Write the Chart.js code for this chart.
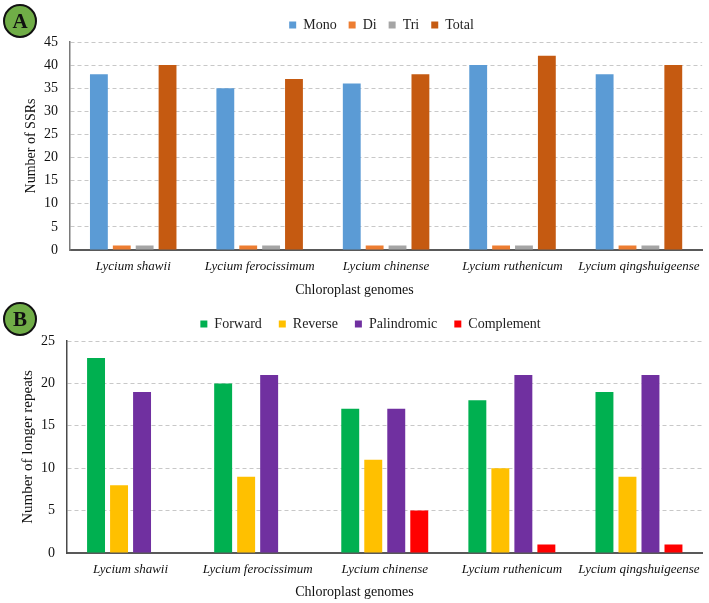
<!DOCTYPE html>
<html>
<head>
<meta charset="utf-8">
<script src="https://cdn.jsdelivr.net/npm/chart.js@4.4.1/dist/chart.umd.min.js"></script>
<style>
    body { margin: 0; background: #fff; }
    #wrap { position: relative; width: 709px; height: 603px; }
    .panel { position: absolute; left: 0; }
    .badge {
        position: absolute; width: 30px; height: 30px; border-radius: 50%;
        background: #70ad47; border: 2px solid #111; color: #111;
        font: bold 21px "Liberation Serif", serif; text-align: center; line-height: 31px;
    }
    .xtitle {
        position: absolute; left: 0; width: 709px; text-align: center;
        font: 14px "Liberation Serif", serif; color: #111; line-height: 16px;
    }
</style>
</head>
<body>
<div id="wrap">
    <canvas id="graficoSSR" class="panel" width="709" height="300" style="top:0"></canvas>
    <canvas id="graficoRepeats" class="panel" width="709" height="303" style="top:300px"></canvas>
    <div class="badge" style="left:3px; top:4px;">A</div>
    <div class="badge" style="left:3px; top:302px;">B</div>
    <div class="xtitle" style="top:282px;">Chloroplast genomes</div>
    <div class="xtitle" style="top:584px;">Chloroplast genomes</div>
</div>
<script>
// categorias (genomas)
const especies = ['Lycium shawii', 'Lycium ferocissimum', 'Lycium chinense', 'Lycium ruthenicum', 'Lycium qingshuigeense'];

// Panel A: SSRs
const mono = [38, 35, 36, 40, 38];
const di = [1, 1, 1, 1, 1];
const tri = [1, 1, 1, 1, 1];
const total = [40, 37, 38, 42, 40];

// Panel B: repeticiones largas
const forward = [23, 20, 17, 18, 19];
const reverse = [8, 9, 11, 10, 9];
const palindromic = [19, 21, 17, 21, 21];
const complement = [0, 0, 5, 1, 1];

const serif = '"Liberation Serif", "Times New Roman", serif';

// mueve la leyenda horizontalmente
const legendShift = {
    id: 'legendShift',
    afterLayout(chart, args, opts) {
        const lg = chart.legend;
        if (lg && opts.dx) {
            lg.left += opts.dx;
            lg.right += opts.dx;
        }
    }
};

function serie(label, data, color) {
    return {
        label: label,
        data: data,
        backgroundColor: color,
        borderWidth: 0,
        categoryPercentage: 0.724,
        barPercentage: 0.78
    };
}

function opciones(cfg) {
    return {
        responsive: false,
        animation: false,
        layout: { padding: { left: 0, right: 4, top: cfg.top, bottom: 0 } },
        plugins: {
            legend: {
                position: 'top',
                labels: {
                    boxWidth: 7,
                    boxHeight: 7,
                    padding: cfg.legendPad,
                    color: '#222',
                    font: { family: serif, size: 14 }
                }
            },
            tooltip: { enabled: false },
            legendShift: { dx: cfg.dx }
        },
        scales: {
            x: {
                grid: { display: false, drawTicks: false },
                border: { color: '#595959', width: 2 },
                ticks: {
                    padding: 9,
                    color: '#111',
                    font: { family: serif, size: 13, style: 'italic' },
                    maxRotation: 0,
                    autoSkip: false
                },
                afterFit(scale) { scale.height = 50; }
            },
            y: {
                min: 0,
                max: cfg.max,
                ticks: {
                    stepSize: 5,
                    padding: 12,
                    color: '#111',
                    font: { family: serif, size: 14 }
                },
                grid: { color: '#c8c8c8', drawTicks: false },
                border: { color: cfg.axisColor, width: 1.5, dash: [4, 3] },
                title: {
                    display: true,
                    text: cfg.yTitle,
                    color: '#111',
                    font: { family: serif, size: cfg.yTitleSize },
                    padding: { top: cfg.yTitlePad, bottom: 0 }
                },
                afterFit(scale) { scale.width = cfg.left; }
            }
        }
    };
}

// Grafico A
new Chart(document.getElementById('graficoSSR').getContext('2d'), {
    type: 'bar',
    data: {
        labels: especies,
        datasets: [
            serie('Mono', mono, '#5b9bd5'),
            serie('Di', di, '#ed7d31'),
            serie('Tri', tri, '#a5a5a5'),
            serie('Total', total, '#c55a11')
        ]
    },
    options: opciones({ top: 6, legendPad: 12, dx: 29, max: 45, yTitle: 'Number of SSRs', yTitleSize: 14,
        yTitlePad: 23, left: 70, axisColor: '#7a7a7a' }),
    plugins: [legendShift]
});

// Grafico B
new Chart(document.getElementById('graficoRepeats').getContext('2d'), {
    type: 'bar',
    data: {
        labels: especies,
        datasets: [
            serie('Forward', forward, '#00b050'),
            serie('Reverse', reverse, '#ffc000'),
            serie('Palindromic', palindromic, '#7030a0'),
            serie('Complement', complement, '#ff0000')
        ]
    },
    options: opciones({ top: 0, legendPad: 17, dx: 18, max: 25, yTitle: 'Number of longer repeats', yTitleSize: 15,
        yTitlePad: 19, left: 67, axisColor: '#4a4a4a' }),
    plugins: [legendShift]
});
</script>
</body>
</html>
